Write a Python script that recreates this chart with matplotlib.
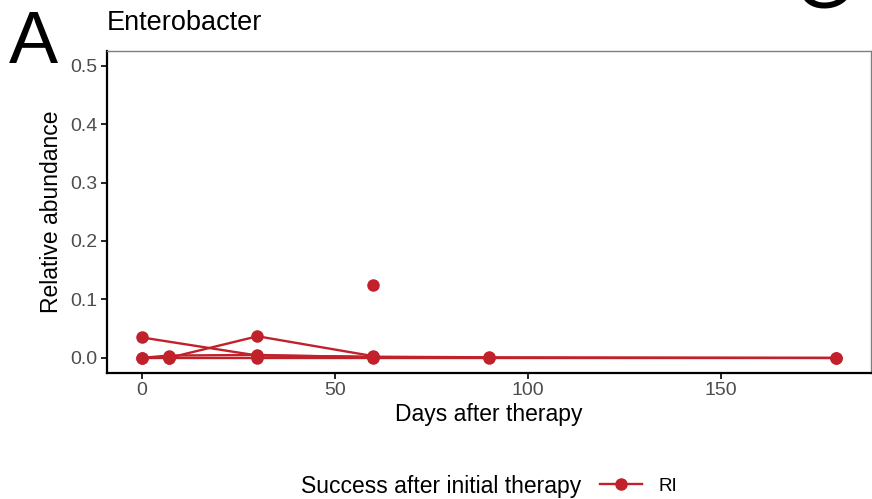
import matplotlib.pyplot as plt
from matplotlib.lines import Line2D
from matplotlib.offsetbox import HPacker

plt.rcParams['font.family'] = ['Liberation Sans', 'DejaVu Sans']

# days after therapy and relative abundance per subject
days_s1 = [0, 30, 60, 90, 180]
abund_s1 = [0.035, 0.004, 0.002, 0.001, 0.0]
days_s2 = [7, 30, 60]
abund_s2 = [0.0, 0.037, 0.003]
days_s3 = [0, 7, 30, 60, 90]
abund_s3 = [0.0, 0.004, 0.005, 0.001, 0.0]
days_s4 = [60]
abund_s4 = [0.125]
days_s5 = [0, 7, 30, 60, 180]
abund_s5 = [0.0, 0.0, 0.0, 0.0, 0.0]

xticks = [0, 50, 100, 150]
yticks = [0.0, 0.1, 0.2, 0.3, 0.4, 0.5]

red = '#C1212B'

fig = plt.figure(figsize=(8.72, 4.99), dpi=100)
ax = fig.add_axes([107/872, 1-372.5/499, (871-107)/872, (372.5-51)/499])

for d, a in [(days_s1, abund_s1), (days_s2, abund_s2), (days_s3, abund_s3),
             (days_s4, abund_s4), (days_s5, abund_s5)]:
    ax.plot(d, a, color=red, lw=1.7, marker='o', ms=8, clip_on=False, zorder=3)

ax.set_xlim(-9, 189)
ax.set_ylim(-0.025, 0.525)
ax.set_xticks(xticks)
ax.set_yticks(yticks)
ax.set_yticklabels([f'{v:.1f}' for v in yticks])
ax.tick_params(labelsize=14, colors='black', labelcolor='#4D4D4D', length=4, width=1.2, pad=3)

for s in ['top', 'right']:
    ax.spines[s].set_color('#7F7F7F')
    ax.spines[s].set_linewidth(1.0)
for s in ['left', 'bottom']:
    ax.spines[s].set_color('black')
    ax.spines[s].set_linewidth(1.6)

ax.set_xlabel('Days after therapy', fontsize=16.5, labelpad=3)
ax.set_ylabel('Relative abundance', fontsize=16.5, labelpad=5)

fig.text(107/872, 1-23/499, 'Enterobacter', fontsize=19.5, va='center', ha='left')
fig.text(9/872, 1-63/499, 'A', fontsize=53, va='baseline', ha='left')
fig.text(823/872, 1-8/499, 'G', fontsize=53, va='baseline', ha='center')

handle = Line2D([], [], color=red, lw=1.7, marker='o', ms=8)
leg = fig.legend([handle], ['RI'], loc='center', bbox_to_anchor=(489/872, 1-486/499),
                 frameon=False, fontsize=13.5, title='Success after initial therapy',
                 handlelength=2.2, handletextpad=0.9)
leg.get_title().set_fontsize(16.5)
# put title to the left of the entries
box = leg._legend_box
box.__class__ = HPacker
box.sep = 14
box.align = 'center'

fig.savefig('out.png', dpi=100)
